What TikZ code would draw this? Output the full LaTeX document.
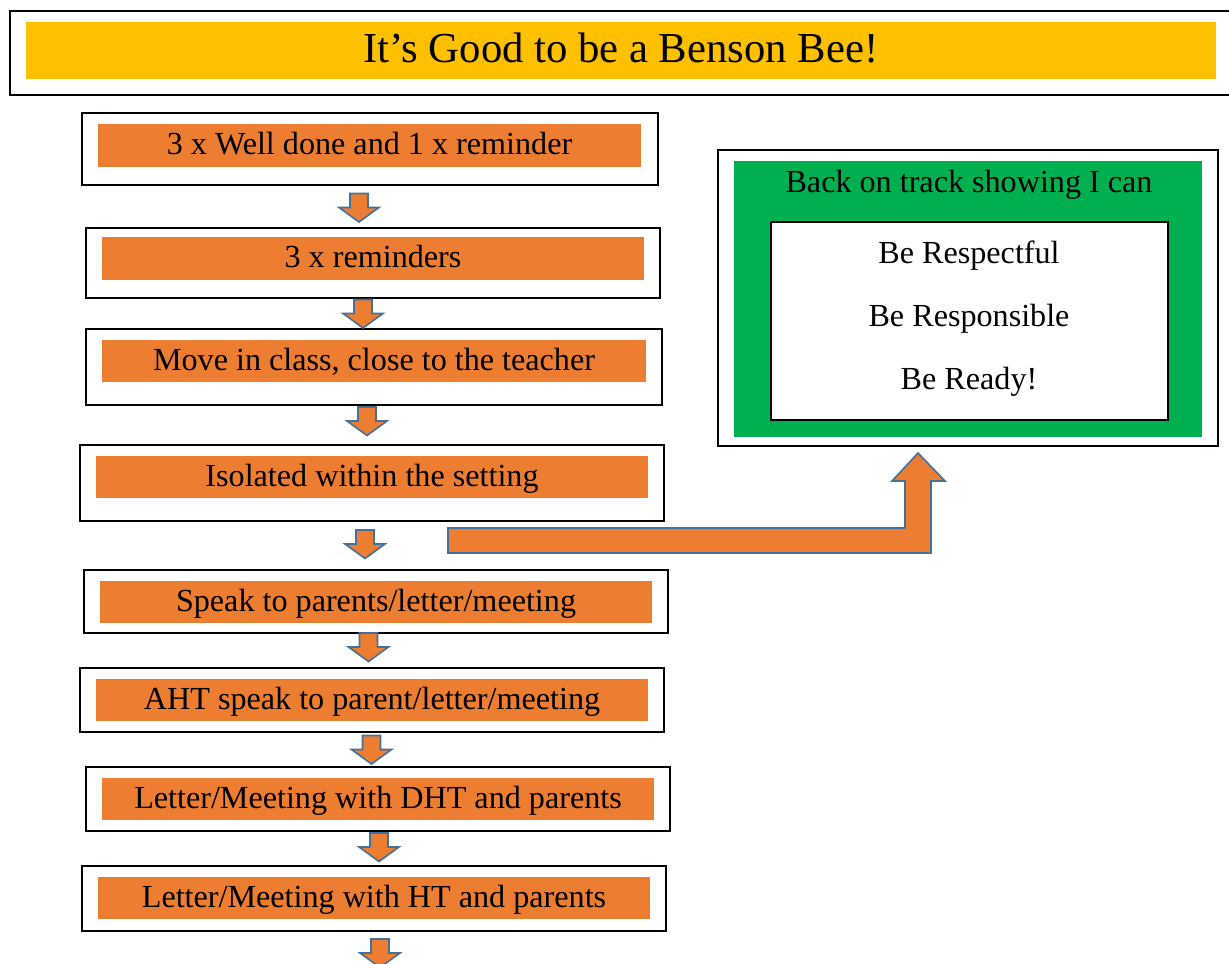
\documentclass[tikz,border=0pt]{standalone}
\usepackage{fontspec}
\setmainfont{Liberation Serif}
\usetikzlibrary{fit}
\definecolor{beeyellow}{HTML}{FFC000}
\definecolor{beeorange}{HTML}{ED7D31}
\definecolor{beegreen}{HTML}{00B050}
\definecolor{arrowblue}{HTML}{41719C}

\begin{document}
\begin{tikzpicture}[x=0.02cm, y=-0.02cm,
    outerbox/.style={draw=black, line width=0.8pt, fill=white, inner sep=0pt},
    stepbox/.style={fill=beeorange, inner sep=0pt},
    steptext/.style={inner sep=0pt, font=\fontsize{18.3}{20}\selectfont,
        text height=12.8pt, text depth=2.3pt},
    blockarrow/.style={fill=beeorange, draw=arrowblue, line width=0.9pt, line join=miter},
    downarrow/.pic={\filldraw[blockarrow] (-9,-14) -- (9,-14) -- (9,0) -- (20,0)
        -- (0,14.5) -- (-20,0) -- (-9,0) -- cycle;}
]
\useasboundingbox (0,0) rectangle (1229,963);

% title
\node[outerbox, line width=1.2pt, fit={(10,11) (1245,95)}] (titleframe) {};
\node[fill=beeyellow, inner sep=0pt, fit={(26,22) (1216,79)}] (title) {};
\node[inner sep=0pt, font=\fontsize{24.3}{28}\selectfont, text height=16.8pt,
    text depth=2.6pt] (titletext) at (title.center) {It’s Good to be a Benson Bee!};
%%
\node[outerbox, fit={(82,113) (658,185)}] (f1) {};
\node[stepbox, fit={(98,124) (641,167)}] (s1) {};
\node[steptext] (t1) at (s1.center) {3 x Well done and 1 x reminder};

\node[outerbox, fit={(86,228) (660,298)}] (f2) {};
\node[stepbox, fit={(102,237) (644,280)}] (s2) {};
\node[steptext] (t2) at (s2.center) {3 x reminders};

\node[outerbox, fit={(86,329) (662,405)}] (f3) {};
\node[stepbox, fit={(102,340) (646,382)}] (s3) {};
\node[steptext] (t3) at (s3.center) {Move in class, close to the teacher};

\node[outerbox, fit={(80,445) (664,521)}] (f4) {};
\node[stepbox, fit={(96,456) (648,498)}] (s4) {};
\node[steptext] (t4) at (s4.center) {Isolated within the setting};

\node[outerbox, fit={(84,570) (668,633)}] (f5) {};
\node[stepbox, fit={(100,581) (652,623)}] (s5) {};
\node[steptext] (t5) at (s5.center) {Speak to parents/letter/meeting};

\node[outerbox, fit={(80,668) (664,732)}] (f6) {};
\node[stepbox, fit={(96,679) (648,721)}] (s6) {};
\node[steptext] (t6) at (s6.center) {AHT speak to parent/letter/meeting};

\node[outerbox, fit={(86,767) (670,831)}] (f7) {};
\node[stepbox, fit={(102,778) (654,820)}] (s7) {};
\node[steptext] (t7) at (s7.center) {Letter/Meeting with DHT and parents};

\node[outerbox, fit={(82,866) (666,931)}] (f8) {};
\node[stepbox, fit={(98,877) (650,919)}] (s8) {};
\node[steptext] (t8) at (s8.center) {Letter/Meeting with HT and parents};
%%
\pic at (359,207.5) {downarrow};
\pic at (363,313.5) {downarrow};
\pic at (367,421) {downarrow};
\pic at (365,544) {downarrow};
\pic at (368.5,647) {downarrow};
\pic at (371.5,749.5) {downarrow};
\pic at (379,847) {downarrow};
\pic at (380,953) {downarrow};
%%
\node[outerbox, fit={(718,150) (1218,446)}] (backframe) {};
\node[fill=beegreen, inner sep=0pt, fit={(734,161) (1202,437)}] (back) {};
\node[outerbox, fit={(771,222) (1168,420)}] (rules) {};

\node[anchor=base, inner sep=0pt, font=\fontsize{18.3}{20}\selectfont] (backtext) at (969,192)
    {Back on track showing I can};
\node[anchor=base, inner sep=0pt, font=\fontsize{18.3}{20}\selectfont] (respectful) at (969,263)
    {Be Respectful};
\node[anchor=base, inner sep=0pt, font=\fontsize{18.3}{20}\selectfont] (responsible) at (969,326)
    {Be Responsible};
\node[anchor=base, inner sep=0pt, font=\fontsize{18.3}{20}\selectfont] (ready) at (969,389)
    {Be Ready!};
%
\coordinate (bendtail) at (448,528);
\coordinate (bendtip) at (918,453);
\filldraw[blockarrow] (bendtail) -- (905,528) -- (905,481) -- (892,481) -- (bendtip)
    -- (945,481) -- (931,481) -- (931,553) -- (448,553) -- cycle;
\end{tikzpicture}
\end{document}
